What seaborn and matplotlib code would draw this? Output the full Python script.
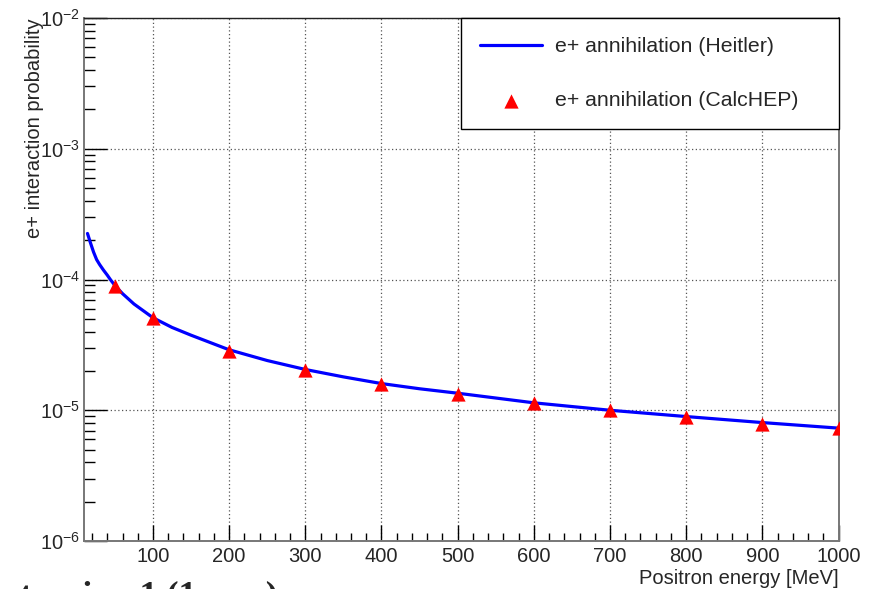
import numpy as np
import pandas as pd
import matplotlib
matplotlib.use("Agg")
import matplotlib.pyplot as plt
import seaborn as sns
from matplotlib.ticker import LogLocator, MultipleLocator, NullFormatter, LogFormatterSciNotation

# ---- data ----
heitler_energy = [14, 18, 22, 26, 30, 35, 40, 44, 50, 60, 75, 100, 125, 150, 200,
                  250, 300, 350, 400, 450, 500, 600, 700, 800, 900, 1000]
heitler_prob = [2.25e-4, 1.9e-4, 1.62e-4, 1.42e-4, 1.30e-4, 1.18e-4, 1.08e-4, 1.0e-4,
                9.0e-5, 7.8e-5, 6.5e-5, 5.1e-5, 4.3e-5, 3.75e-5, 2.9e-5,
                2.4e-5, 2.05e-5, 1.8e-5, 1.6e-5, 1.46e-5, 1.35e-5, 1.14e-5,
                1.0e-5, 8.95e-6, 8.05e-6, 7.3e-6]
calchep_energy = [50, 100, 200, 300, 400, 500, 600, 700, 800, 900, 1000]
calchep_prob = [8.9e-5, 5.1e-5, 2.83e-5, 2.03e-5, 1.6e-5, 1.32e-5, 1.13e-5,
                1.0e-5, 8.9e-6, 7.9e-6, 7.3e-6]
label_heitler = "e+ annihilation (Heitler)"
label_calchep = "e+ annihilation (CalcHEP)"

sns.set_style("white")
plt.rcParams["font.family"] = ["Liberation Sans", "DejaVu Sans"]
plt.rcParams["mathtext.fontset"] = "custom"
plt.rcParams["mathtext.rm"] = "Liberation Sans"
plt.rcParams["mathtext.it"] = "Liberation Sans:italic"
plt.rcParams["mathtext.bf"] = "Liberation Sans:bold"

fig = plt.figure(figsize=(8.75, 5.89), dpi=100)
ax = fig.add_axes([0.0965, 0.0815, 0.8618, 0.8879])

df_line = pd.DataFrame({"E": heitler_energy, "P": heitler_prob})
df_pts = pd.DataFrame({"E": calchep_energy, "P": calchep_prob})

sns.lineplot(data=df_line, x="E", y="P", color="#0000ff", linewidth=2.3,
             sort=False, ax=ax, label=label_heitler, zorder=3)
sns.scatterplot(data=df_pts, x="E", y="P", marker="^", s=105, color="#ff0000",
                linewidth=0, ax=ax, label=label_calchep, zorder=4)

ax.set_yscale("log")
ax.set_xlim(10, 1000)
ax.set_ylim(1e-6, 1e-2)

ax.xaxis.set_major_locator(MultipleLocator(100))
ax.xaxis.set_minor_locator(MultipleLocator(20))
ax.yaxis.set_major_locator(LogLocator(base=10, numticks=10))
ax.yaxis.set_minor_locator(LogLocator(base=10, subs=np.arange(2, 10), numticks=20))
ax.yaxis.set_minor_formatter(NullFormatter())
ax.yaxis.set_major_formatter(LogFormatterSciNotation())

ax.tick_params(axis="both", which="both", bottom=True, left=True, top=False, right=False)
ax.tick_params(axis="x", which="major", direction="in", length=11.3, width=1,
               color="black", pad=4, labelsize=14.5)
ax.tick_params(axis="x", which="minor", direction="in", length=5.6, width=1, color="black")
ax.tick_params(axis="y", which="major", direction="in", length=16.3, width=1,
               color="black", pad=3, labelsize=14.5)
ax.tick_params(axis="y", which="minor", direction="in", length=8.2, width=1, color="black")

ax.grid(True, which="major", linestyle=(0, (1, 2)), color="#555555", linewidth=0.9)
ax.grid(False, which="minor")

for side in ["left", "bottom", "right"]:
    ax.spines[side].set_color("#777777")
    ax.spines[side].set_linewidth(1.4)
ax.spines["top"].set_color("#222222")
ax.spines["top"].set_linewidth(1.0)

ax.set_xlabel("Positron energy [MeV]", loc="right", fontsize=14.5)
ax.xaxis.set_label_coords(1.0, -0.0535)
ax.set_ylabel("e+ interaction probability", loc="top", fontsize=14.5)
ax.yaxis.set_label_coords(-0.053, 1.0)

handles, labels = ax.get_legend_handles_labels()
leg = ax.legend(handles, labels, loc="upper left",
                bbox_to_anchor=(0.4988, 1.0, 0.5012, 0.0), mode="expand",
                borderaxespad=0, frameon=True, fancybox=False, framealpha=1,
                edgecolor="black", fontsize=15.3, handlelength=2.95,
                handletextpad=0.6, borderpad=0.9, labelspacing=1.65)
leg.get_frame().set_linewidth(1.0)

# cut-off text from the page below the figure
fig.text(20 / 875, -0.027, "tension 1 (1 mm)", fontfamily="Liberation Serif",
         fontweight="bold", fontsize=26, va="baseline", ha="left")

fig.savefig("out.png", dpi=100)
